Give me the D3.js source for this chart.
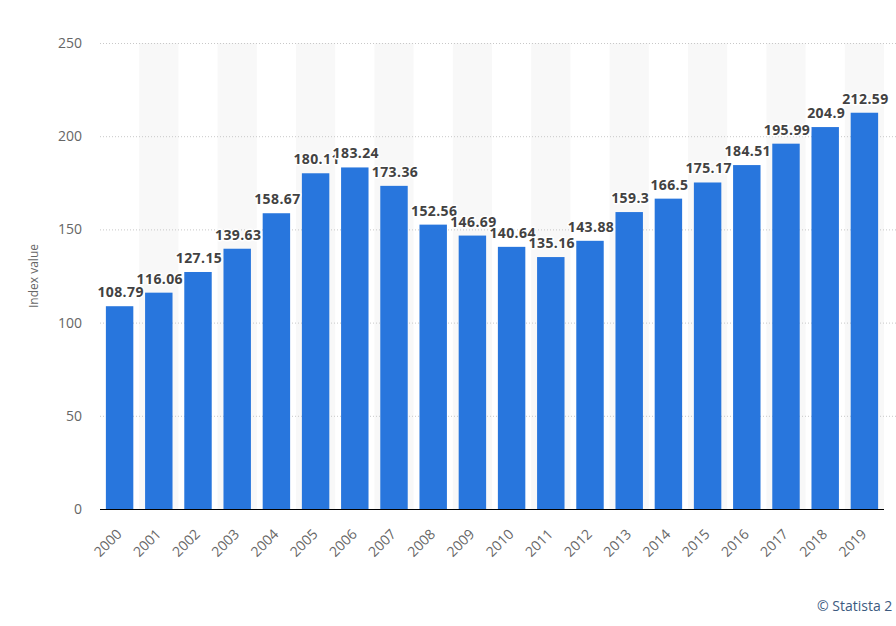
<!DOCTYPE html>
<html><head><meta charset="utf-8">
<script src="https://cdn.jsdelivr.net/npm/d3@7"></script>
<style>
html,body{margin:0;padding:0;background:#fff;}
svg{display:block;font-family:"Open Sans",sans-serif;}
</style></head>
<body>
<svg id="chart" width="896" height="626"></svg>
<script>
const years = ["2000","2001","2002","2003","2004","2005","2006","2007","2008","2009","2010","2011","2012","2013","2014","2015","2016","2017","2018","2019"];
const values = [108.79,116.06,127.15,139.63,158.67,180.11,183.24,173.36,152.56,146.69,140.64,135.16,143.88,159.3,166.5,175.17,184.51,195.99,204.9,212.59];
const valueLabels = ["108.79","116.06","127.15","139.63","158.67","180.11","183.24","173.36","152.56","146.69","140.64","135.16","143.88","159.3","166.5","175.17","184.51","195.99","204.9","212.59"];
const yTicks = [0,50,100,150,200,250];

(function(){
const svg = d3.select("#chart");
const mLeft = 100, mRight = 884, mTop = 43, mBottom = 509;

const x = d3.scaleBand().domain(years).range([mLeft, mRight]).paddingInner(0.3).paddingOuter(0.15);
const xs = d3.scaleBand().domain(years).range([mLeft, mRight]).padding(0);
const y = d3.scaleLinear().domain([0,250]).range([mBottom, mTop]);

// alternating stripes
svg.append("g").selectAll("rect").data(years.filter((d,i)=>i%2===1)).join("rect")
  .attr("x", d=>xs(d)).attr("width", xs.bandwidth())
  .attr("y", mTop).attr("height", mBottom-mTop).attr("fill","#f8f8f8");

// grid
svg.append("g").selectAll("line").data(yTicks.filter(t=>t>0)).join("line")
  .attr("x1", mLeft).attr("x2", 896).attr("y1", d=>y(d)+0.5).attr("y2", d=>y(d)+0.5)
  .attr("stroke","#c8c8c8").attr("stroke-width",1).attr("stroke-dasharray","1,2");

// y axis labels
const yAxis = d3.axisLeft(y).tickValues(yTicks).tickSize(0).tickPadding(0);
const gy = svg.append("g").attr("transform",`translate(82,0)`).call(yAxis);
gy.select(".domain").remove();
gy.selectAll("text").attr("fill","#666").style("font-size","14px").style("font-family","'Open Sans',sans-serif");

// bars
svg.append("g").selectAll("rect").data(years).join("rect")
  .attr("x", d=>x(d)).attr("width", x.bandwidth())
  .attr("y", (d,i)=>y(values[i])).attr("height",(d,i)=>mBottom-y(values[i]))
  .attr("fill","#2876dd");

// baseline
svg.append("line").attr("x1",mLeft).attr("x2",mRight).attr("y1",mBottom+0.5).attr("y2",mBottom+0.5)
  .attr("stroke","#000").attr("stroke-width",1);

// x axis
const xAxis = d3.axisBottom(x).tickSize(0).tickPadding(0);
const gx = svg.append("g").attr("transform",`translate(0,${mBottom})`).call(xAxis);
gx.select(".domain").remove();
gx.selectAll("text")
  .attr("fill","#666").style("font-size","14px").style("font-family","'Open Sans',sans-serif")
  .attr("text-anchor","end").attr("dy",null).attr("y",0)
  .attr("transform","translate(3,26) rotate(-45)");

// value labels
svg.append("g").selectAll("text").data(years).join("text")
  .attr("x", d=>x(d)+x.bandwidth()/2+1)
  .attr("y", (d,i)=>y(values[i])-9)
  .attr("text-anchor","middle")
  .attr("fill","#424242").style("font-size","14px").style("font-weight","700")
  .style("letter-spacing","0.4px")
  .attr("stroke","#fff").attr("stroke-width",3).attr("stroke-linejoin","round")
  .style("paint-order","stroke")
  .text((d,i)=>valueLabels[i]);

// y title
svg.append("text").attr("transform","translate(38,276) rotate(-90)")
  .attr("text-anchor","middle").attr("fill","#666").style("font-size","12px").text("Index value");

// credit
svg.append("text").attr("x",817).attr("y",611).attr("fill","#3c5a80").style("font-size","14px").text("© Statista 2");
})();
</script>
</body></html>
